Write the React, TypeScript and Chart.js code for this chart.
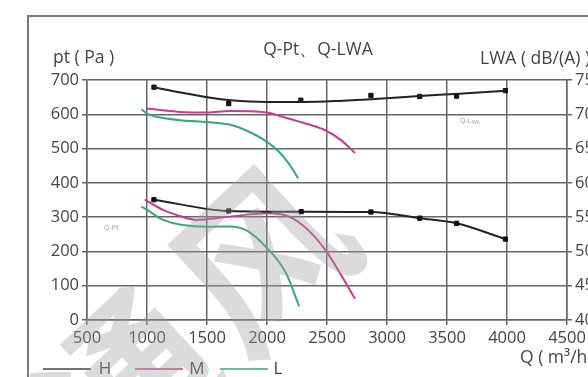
import React, { useEffect, useRef } from "react";
import { Chart, registerables } from "chart.js";
Chart.register(...registerables);

// Q (m³/h) and static pressure pt (Pa)
const hPtQ = [1058, 1681, 2285, 2866, 3273, 3580, 3987];
const hPt = [351, 318, 316, 315, 297, 282, 236];
const mPtQ = [981, 1133, 1250, 1410, 1687, 2000, 2185, 2350, 2493, 2620, 2733];
const mPt = [351, 321, 306, 292, 301.5, 311, 301.5, 260, 201, 130, 62];
const lPtQ = [953, 1000, 1133, 1500, 1687, 1825, 2000, 2158, 2268];
const lPt = [331, 322, 292, 272, 273, 262, 210, 137, 40];

// Q and sound power LWA dB(A)
const hLwaQ = [1058, 1681, 2282, 2866, 3273, 3580, 3987];
const hLwa = [73.95, 71.55, 72.05, 72.75, 72.6, 72.65, 73.45];
const hLwaFitQ = [1058, 1270, 1500, 1700, 2000, 2300, 2600, 2930, 3270, 3600, 3990];
const hLwaFit = [73.95, 73.2, 72.5, 72.05, 71.8, 71.8, 71.95, 72.25, 72.65, 73.0, 73.45];
const mLwaQ = [1000, 1272, 1500, 1687, 1850, 2000, 2185, 2350, 2493, 2620, 2733];
const mLwa = [70.83, 70.35, 70.25, 70.48, 70.45, 70.25, 69.35, 68.5, 67.6, 66.2, 64.35];
const lLwaQ = [953, 1000, 1133, 1300, 1500, 1687, 1850, 2000, 2102, 2180, 2260];
const lLwa = [70.73, 70.1, 69.45, 69.1, 68.88, 68.5, 67.45, 65.98, 64.5, 62.85, 60.65];

const legendLabels = ["H", "M", "L"];
const colorH = "#222222";
const colorM = "#c93a8e";
const colorL = "#35a97a";

const zip = (q: number[], v: number[]) => q.map((x, i) => ({ x, y: v[i] }));

const FONT = "'Open Sans', 'DejaVu Sans', sans-serif";
const TXT = "#454545";
const GRID = "#666666";

const decor = {
  id: "decor",
  beforeDraw(chart: any) {
    const ctx = chart.ctx;
    ctx.save();
    ctx.fillStyle = "#ffffff";
    ctx.fillRect(0, 0, chart.width, chart.height);
    ctx.strokeStyle = "#7a7a7a";
    ctx.lineWidth = 2;
    ctx.beginPath();
    ctx.moveTo(28, chart.height);
    ctx.lineTo(28, 16);
    ctx.lineTo(chart.width, 16);
    ctx.stroke();
    ctx.restore();
  },
  afterDraw(chart: any) {
    const ctx = chart.ctx;
    ctx.save();
    ctx.fillStyle = TXT;
    ctx.textBaseline = "middle";
    ctx.font = `17.5px ${FONT}`;
    ctx.textAlign = "left";
    ctx.fillText("pt ( Pa )", 53, 58);
    ctx.fillText("LWA ( dB/(A) )", 480, 59);
    ctx.fillText("Q ( m³/h )", 520, 358);
    ctx.textAlign = "center";
    ctx.fillText("Q-Pt、Q-LWA", 318, 50);

    // small curve labels
    ctx.fillStyle = "#9a9a9a";
    ctx.font = `7px ${FONT}`;
    ctx.textAlign = "left";
    ctx.fillText("Q-Pt", 104, 228);
    ctx.fillText("Q-L", 460, 121);
    ctx.font = `5px ${FONT}`;
    ctx.fillText("WA", 472, 123);

    // legend
    const items = [
      { x1: 43, x2: 91, tx: 105, c: "#444444" },
      { x1: 135, x2: 183, tx: 197, c: colorM },
      { x1: 220, x2: 268, tx: 278, c: colorL },
    ];
    items.forEach((it, i) => {
      ctx.strokeStyle = it.c;
      ctx.lineWidth = 1.5;
      ctx.beginPath();
      ctx.moveTo(it.x1, 369);
      ctx.lineTo(it.x2, 369);
      ctx.stroke();
      ctx.fillStyle = TXT;
      ctx.font = `17px ${FONT}`;
      ctx.textAlign = "center";
      ctx.fillText(legendLabels[i], it.tx, 369);
    });

    // watermark
    ctx.translate(262, 258);
    ctx.rotate(-0.75);
    ctx.fillStyle = "rgba(160,160,160,0.38)";
    ctx.font = `bold 170px 'Noto Sans CJK SC'`;
    ctx.textAlign = "center";
    ctx.textBaseline = "middle";
    ctx.fillText("风", 0, 0);
    ctx.fillText("通", -185, 0);
    ctx.restore();
  },
};

const plain = (v: any) => String(v);

export default function App() {
  const ref = useRef<HTMLCanvasElement>(null);
  useEffect(() => {
    const canvas = ref.current!;
    const line = (data: any, color: string, axis: string, extra: any = {}) => ({
      data,
      yAxisID: axis,
      borderColor: color,
      backgroundColor: color,
      borderWidth: 2,
      showLine: true,
      cubicInterpolationMode: "monotone",
      pointRadius: 0,
      ...extra,
    });
    const marker = { pointStyle: "rect", pointRadius: 3, pointBorderWidth: 1, pointBackgroundColor: "#111", pointBorderColor: "#111" };
    const chart = new Chart(canvas, {
      type: "scatter",
      data: {
        datasets: [
          line(zip(hPtQ, hPt), colorH, "y", marker),
          line(zip(hLwaFitQ, hLwaFit), colorH, "y2"),
          line(zip(hLwaQ, hLwa), colorH, "y2", { ...marker, showLine: false }),
          line(zip(mPtQ, mPt), colorM, "y"),
          line(zip(mLwaQ, mLwa), colorM, "y2"),
          line(zip(lPtQ, lPt), colorL, "y"),
          line(zip(lLwaQ, lLwa), colorL, "y2"),
        ] as any,
      },
      options: {
        animation: false,
        responsive: false,
        devicePixelRatio: 1,
        layout: { padding: { top: 80, left: 0, right: 0, bottom: 0 } },
        plugins: { legend: { display: false }, tooltip: { enabled: false }, title: { display: false } },
        scales: {
          x: {
            type: "linear",
            min: 500,
            max: 4500,
            ticks: { stepSize: 500, color: TXT, font: { family: FONT, size: 16.5 }, padding: 3, maxRotation: 0, callback: plain },
            grid: { color: GRID, lineWidth: 1.5, tickLength: 5 },
            border: { color: GRID, width: 1.5 },
            afterFit: (s: any) => { s.height = 57; },
          },
          y: {
            position: "left",
            min: 0,
            max: 700,
            ticks: { stepSize: 100, color: TXT, font: { family: FONT, size: 16.5 }, padding: 3, callback: plain },
            grid: { color: GRID, lineWidth: 1.5, tickLength: 5 },
            border: { color: GRID, width: 1.5 },
            afterFit: (s: any) => { s.width = 87; },
          },
          y2: {
            position: "right",
            min: 40,
            max: 75,
            ticks: { stepSize: 5, color: TXT, font: { family: FONT, size: 16.5 }, padding: 3, callback: plain },
            grid: { drawOnChartArea: false, color: GRID, lineWidth: 1.5, tickLength: 5 },
            border: { color: GRID, width: 1.5 },
            afterFit: (s: any) => { s.width = 53; },
          },
        },
      } as any,
      plugins: [decor],
    });
    return () => chart.destroy();
  }, []);
  return (
    <div style={{ position: "absolute", left: 0, top: 0, width: 588, height: 377, overflow: "hidden", background: "#fff" }}>
      <canvas ref={ref} width={620} height={377} style={{ display: "block" }} />
    </div>
  );
}
